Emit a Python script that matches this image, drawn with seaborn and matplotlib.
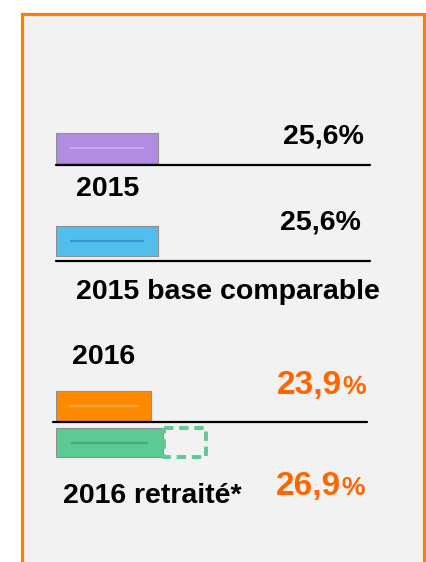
import matplotlib
matplotlib.use("Agg")
import matplotlib.pyplot as plt
import seaborn as sns
import pandas as pd
from matplotlib.patches import Rectangle
from matplotlib.lines import Line2D

# données
labels = ["2015", "2015 base comparable", "2016", "2016 retraité*"]
values = [25.6, 25.6, 23.9, 26.9]
value_labels = ["25,6", "25,6", "23,9", "26,9"]
extension = [0, 0, 0, 10.5]   # partie en pointillés (retraitement)
bar_colors = ["#B28BE3", "#52BEEE", "#FF8A00", "#5CCA92"]
inner_colors = ["#CBA9F2", "#3A98C8", "#FFA640", "#3FAE78"]
label_colors = ["black", "black", "#FF6600", "#FF6600"]

W, H = 426, 562
sns.set_theme(style="white")
plt.rcParams["font.family"] = ["Liberation Sans", "DejaVu Sans"]

fig = plt.figure(figsize=(W / 100, H / 100), dpi=100)
fig.patch.set_facecolor("white")


def fx(x):
    return x / W


def fy(y):
    return 1 - y / H


# cadre gris avec bordure orange
fig.add_artist(Rectangle((fx(22), fy(H + 10)), fx(424) - fx(22), fy(14) - fy(H + 10),
                         transform=fig.transFigure, facecolor="#F2F2F2",
                         edgecolor="#FF8000", linewidth=2.3, zorder=0))

# axes: x en %, y en pixels
x0 = 55.5
scale = 4.0  # px par point de %
ax = fig.add_axes([fx(x0), 0, 1 - fx(x0), 1])
ax.set_facecolor("none")

ypos = [148, 241, 406, 442.5]
df = pd.DataFrame({"label": labels, "value": values, "y": ypos})
sns.barplot(data=df, x="value", y="y", hue="label", palette=bar_colors, orient="y",
            native_scale=True, dodge=False, legend=False, errorbar=None, saturation=1,
            width=0.82, edgecolor="#8f8f8f", linewidth=0.8, ax=ax, zorder=3)

ax.set_xlim(0, (W - x0) / scale)
ax.set_ylim(H, 0)
ax.axis("off")

# reflets dans les barres
for v, y, c in zip(values, ypos, inner_colors):
    ax.hlines(y, 0.14 * v, 0.86 * v, color=c, linewidth=1.6, zorder=4)

# partie retraitée en pointillés
for v, e, y, c in zip(values, extension, ypos, bar_colors):
    if e > 0:
        ax.barh(y, e, left=v + 0.3, height=29, fill=False, edgecolor=c,
                linewidth=2.8, linestyle=(0, (2.4, 1.5)), zorder=3)

# lignes de séparation
for (xa, xb, y) in [(56, 370, 165), (56, 370, 260.5), (53, 367, 422)]:
    fig.add_artist(Line2D([fx(xa), fx(xb)], [fy(y), fy(y)], transform=fig.transFigure,
                          color="black", linewidth=1.6, zorder=5))

# libellés des années
for lab, (lx, ly) in zip(labels, [(76, 196), (76, 299), (72, 364), (63, 503)]):
    fig.text(fx(lx), fy(ly), lab, fontsize=20.5, fontweight="bold", color="black",
             ha="left", va="baseline")

# valeurs
pos_vals = [(283, 143), (280, 230), (277, 394), (276, 495)]
for txt, col, (vx, vy) in zip(value_labels, label_colors, pos_vals):
    if col == "black":
        fig.text(fx(vx), fy(vy), txt + "%", fontsize=20.5, fontweight="bold",
                 color=col, ha="left", va="baseline")
    else:
        t = fig.text(fx(vx), fy(vy), txt, fontsize=24, fontweight="bold",
                     color=col, ha="left", va="baseline")
        fig.canvas.draw()
        bb = t.get_window_extent()
        fig.text(bb.x1 / W, fy(vy), "%", fontsize=19, fontweight="bold",
                 color=col, ha="left", va="baseline")

fig.savefig("out.png", dpi=100)
